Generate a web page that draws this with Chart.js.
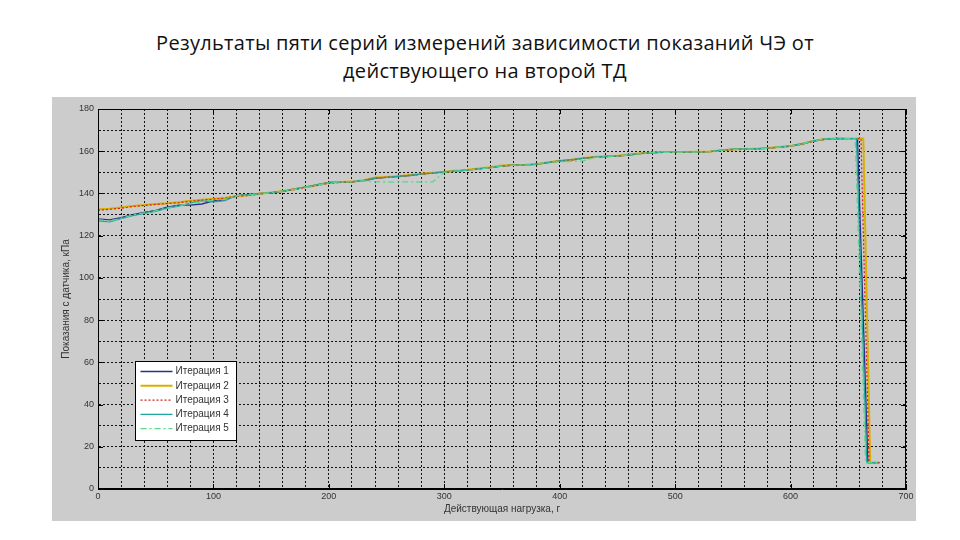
<!DOCTYPE html>
<html>
<head>
<meta charset="utf-8">
<script src="https://cdn.jsdelivr.net/npm/chart.js@4/dist/chart.umd.min.js"></script>
<style>
  html, body { margin: 0; padding: 0; background: #ffffff; }
  body { width: 960px; height: 540px; position: relative; overflow: hidden; }
  #title {
    position: absolute; left: 10px; top: 29px; width: 950px;
    text-align: center; font-family: "Open Sans", "Noto Sans", sans-serif;
    font-size: 20px; letter-spacing: 0.3px; line-height: 28px; color: #111;
  }
  #figure {
    position: absolute; left: 52px; top: 97px; width: 864px; height: 424px;
    background: #cccccc;
  }
</style>
</head>
<body>
<div id="title">Результаты пяти серий измерений зависимости показаний ЧЭ от<br>действующего на второй ТД</div>
<div id="figure"><canvas id="c"></canvas></div>
<script>
// ---- data ----
const seriesNames = ["Итерация 1", "Итерация 2", "Итерация 3", "Итерация 4", "Итерация 5"];

// load, g (shared by the rising part of every series)
const load = [0,10,20,30,40,50,60,70,80,90,100,110,120,130,140,150,160,170,180,190,
  200,210,220,230,240,250,260,270,280,290,300,310,320,330,340,350,360,370,380,390,
  400,410,420,430,440,450,460,470,480,490,500,510,520,530,540,550,560,570,580,590,
  600,610,620,630,640,650];

// sensor readings, kPa
const iter1 = [128.0,127.5,128.5,130.0,131.0,132.0,133.5,134.5,134.5,135.0,136.5,137.0,139.0,139.5,140.0,140.3,141.0,142.2,143.0,144.2,
  145.2,145.5,145.5,146.0,147.2,147.6,148.0,148.5,149.2,149.7,150.2,150.6,151.0,151.6,152.2,153.0,153.4,153.5,153.8,154.6,
  155.3,155.8,156.6,157.1,157.5,157.7,158.2,158.9,159.3,159.5,159.5,159.6,159.6,159.8,160.4,160.9,161.2,161.1,161.4,161.9,
  162.4,163.4,164.8,165.6,165.9,166.0];
const iter2 = [132.5,132.8,133.4,134.0,134.5,135.0,135.3,135.8,136.5,137.0,137.5,137.8,138.8,139.2,139.8,140.5,141.2,142.0,143.0,144.0,
  145.0,145.4,145.6,146.3,147.5,147.8,148.2,148.7,149.3,149.8,150.3,150.8,151.2,151.8,152.4,153.2,153.5,153.6,154.0,154.8,
  155.5,156.0,156.8,157.3,157.6,157.8,158.4,159.0,159.4,159.6,159.6,159.6,159.7,159.9,160.5,160.8,161.0,161.2,161.5,162.0,
  162.5,163.5,165.0,165.8,166.0,166.0];
const iter3 = [132.0,132.5,133.0,133.8,134.3,134.8,135.2,135.6,136.3,136.8,137.3,137.8,138.6,139.0,139.7,140.3,141.0,141.8,142.8,143.8,
  144.8,145.2,145.5,146.1,147.3,147.7,148.1,148.6,149.1,149.6,150.1,150.6,151.1,151.7,152.3,153.0,153.4,153.5,153.9,154.7,
  155.4,155.9,156.7,157.2,157.5,157.7,158.3,158.9,159.3,159.5,159.5,159.5,159.6,159.8,160.4,160.7,160.9,161.1,161.4,161.9,
  162.4,163.4,164.9,165.7,165.9,166.0];
const iter4 = [127.0,126.5,128.0,129.5,130.5,131.5,133.0,134.0,135.5,136.5,136.0,136.5,139.0,139.4,139.9,140.4,141.1,142.0,143.1,144.1,
  145.1,145.4,145.6,146.2,147.3,147.7,148.1,148.6,149.2,149.7,150.2,150.7,151.1,151.7,152.3,153.1,153.4,153.5,153.9,154.7,
  155.5,156.1,156.7,157.2,157.6,157.8,158.3,159.0,159.3,159.5,159.6,159.6,159.6,159.9,160.6,161.0,161.1,161.2,161.5,162.0,
  162.6,163.6,165.0,165.9,166.1,166.0];
const iter5 = [127.5,127.0,128.2,129.8,130.8,131.8,133.2,134.2,135.2,136.2,136.8,137.2,138.9,139.3,139.8,140.4,141.1,141.9,142.9,143.9,
  145.0,145.4,145.6,146.0,145.5,145.4,145.4,145.5,145.4,145.5,150.0,150.6,151.0,151.6,152.2,153.0,153.3,153.4,153.8,155.0,
  155.0,155.2,155.4,157.0,157.5,157.7,158.3,158.9,159.3,159.5,159.5,159.6,159.6,159.8,160.5,160.8,161.0,161.1,161.4,162.0,
  162.5,163.5,165.0,165.8,166.0,166.0];

// final drop of each series (load, reading)
const tailLoad1 = [658, 667, 677], tail1 = [166.0, 12.5, 12.5];
const tailLoad2 = [663, 669, 677], tail2 = [166.0, 12.5, 12.5];
const tailLoad3 = [661, 668, 677], tail3 = [166.0, 12.5, 12.5];
const tailLoad4 = [657, 666, 676], tail4 = [166.0, 12.5, 12.5];
const tailLoad5 = [656, 665, 676], tail5 = [166.0, 12.5, 12.5];

// axis ticks
const xMajorTicks = [0,100,200,300,400,500,600,700];
const yMajorTicks = [0,20,40,60,80,100,120,140,160,180];

// ---- styles ----
const colors = ["#26338a", "#d8b000", "#d42020", "#1fa3a0", "#55d98a"];
const widths = [1.3, 2, 1.2, 1.1, 1.3];
const dashes = [[], [], [2, 2], [], [6, 3, 2, 3]];

function pts(xs, ys) { return xs.map((x, i) => ({ x: x, y: ys[i] })); }

const seriesX = [load.concat(tailLoad1), load.concat(tailLoad2), load.concat(tailLoad3), load.concat(tailLoad4), load.concat(tailLoad5)];
const seriesY = [iter1.concat(tail1), iter2.concat(tail2), iter3.concat(tail3), iter4.concat(tail4), iter5.concat(tail5)];

const datasets = seriesNames.map((name, i) => ({
  label: name,
  data: pts(seriesX[i], seriesY[i]),
  showLine: true,
  borderColor: colors[i],
  backgroundColor: colors[i],
  borderWidth: widths[i],
  borderDash: dashes[i],
  pointRadius: 0,
  tension: 0,
  fill: false,
  order: 4 - i
}));

const framePlugin = {
  id: 'frame',
  afterDraw(chart) {
    const { ctx, chartArea: a, scales } = chart;
    const xs = scales.x, ys = scales.y;
    ctx.save();
    ctx.setLineDash([]);
    ctx.strokeStyle = '#000';
    ctx.lineWidth = 1;
    ctx.strokeRect(Math.round(a.left) + 0.5, Math.round(a.top) + 0.5,
      Math.round(a.right - a.left) - 1, Math.round(a.bottom - a.top) - 1);
    const tl = 5;
    ctx.beginPath();
    xMajorTicks.forEach(v => {
      const p = Math.round(xs.getPixelForValue(v)) + 0.5;
      ctx.moveTo(p, a.bottom); ctx.lineTo(p, a.bottom - tl);
      ctx.moveTo(p, a.top); ctx.lineTo(p, a.top + tl);
    });
    yMajorTicks.forEach(v => {
      const p = Math.round(ys.getPixelForValue(v)) + 0.5;
      ctx.moveTo(a.left, p); ctx.lineTo(a.left + tl, p);
      ctx.moveTo(a.right, p); ctx.lineTo(a.right - tl, p);
    });
    ctx.stroke();

    // legend box
    const bx = Math.round(a.left + 37) + 0.5, by = Math.round(a.top + 252) + 0.5;
    const bw = 101, bh = 79;
    ctx.fillStyle = '#ffffff';
    ctx.fillRect(bx, by, bw, bh);
    ctx.strokeStyle = '#000';
    ctx.lineWidth = 1;
    ctx.strokeRect(bx, by, bw, bh);
    ctx.font = '10px "Liberation Sans", Arial, sans-serif';
    ctx.textBaseline = 'middle';
    ctx.textAlign = 'left';
    seriesNames.forEach((name, i) => {
      const yy = by + 10 + i * 14.3;
      ctx.beginPath();
      ctx.strokeStyle = colors[i];
      ctx.lineWidth = widths[i];
      ctx.setLineDash(dashes[i]);
      ctx.moveTo(bx + 5, yy); ctx.lineTo(bx + 37, yy);
      ctx.stroke();
      ctx.setLineDash([]);
      ctx.fillStyle = '#333';
      ctx.fillText(name, bx + 40, yy);
    });
    ctx.restore();
  }
};

const tickFont = { family: '"Liberation Sans", Arial, sans-serif', size: 9 };

new Chart(document.getElementById('c'), {
  type: 'scatter',
  data: { datasets: datasets },
  options: {
    responsive: true,
    maintainAspectRatio: false,
    animation: false,
    layout: { padding: { top: 12, right: 10, left: 0, bottom: 0 } },
    plugins: {
      legend: { display: false },
      tooltip: { enabled: false },
      title: { display: false }
    },
    scales: {
      x: {
        type: 'linear', min: 0, max: 700,
        afterFit: s => { s.height = 32; },
        ticks: {
          stepSize: 20, autoSkip: false, maxRotation: 0, padding: 2,
          color: '#333', font: tickFont,
          callback: v => (v % 100 === 0 ? String(v) : '')
        },
        grid: { color: '#111', lineWidth: 1, drawTicks: false },
        border: { display: true, color: '#000', dash: [2, 2] },
        title: {
          display: true, text: 'Действующая нагрузка, г', color: '#333',
          font: { family: '"Liberation Sans", Arial, sans-serif', size: 10 },
          padding: { top: 0, bottom: 6 }
        }
      },
      y: {
        type: 'linear', min: 0, max: 180,
        afterFit: s => { s.width = 46; },
        ticks: {
          stepSize: 10, autoSkip: false, padding: 4,
          color: '#333', font: tickFont,
          callback: v => (v % 20 === 0 ? String(v) : '')
        },
        grid: { color: '#111', lineWidth: 1, drawTicks: false },
        border: { display: true, color: '#000', dash: [2, 2] },
        title: {
          display: true, text: 'Показания с датчика, кПа', color: '#333',
          font: { family: '"Liberation Sans", Arial, sans-serif', size: 10 },
          padding: { top: 8, bottom: 0 }
        }
      }
    }
  },
  plugins: [framePlugin]
});
</script>
</body>
</html>
